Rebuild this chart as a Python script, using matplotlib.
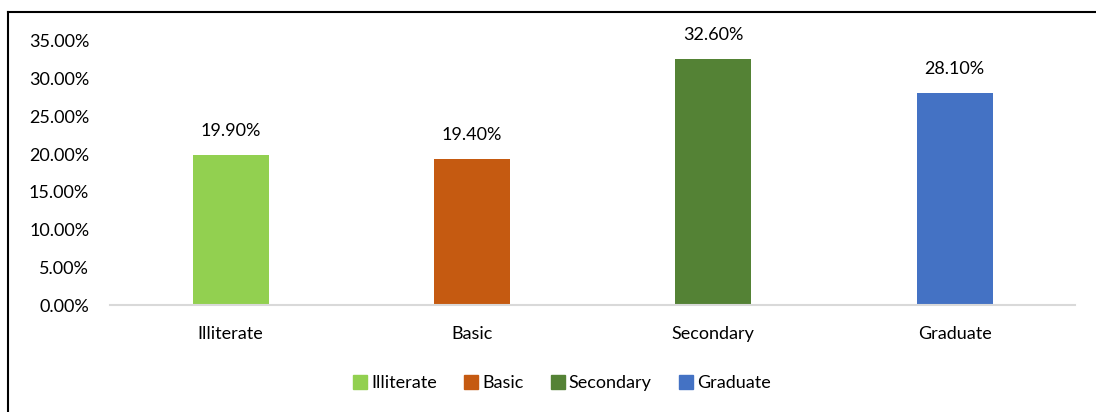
import matplotlib.pyplot as plt
from matplotlib.lines import Line2D
from matplotlib.ticker import FuncFormatter

categories = ["Illiterate", "Basic", "Secondary", "Graduate"]
values = [19.90, 19.40, 32.60, 28.10]
colors = ["#92D050", "#C55A11", "#548235", "#4472C4"]
yticks = [0, 5, 10, 15, 20, 25, 30, 35]

plt.rcParams['font.family'] = ['Lato', 'DejaVu Sans']

fig = plt.figure(figsize=(10.96, 4.12), dpi=100)
ax = fig.add_axes([0.1004, 0.2597, 0.8806, 0.6408])

x = range(len(categories))
bars = ax.bar(x, values, width=0.315, color=colors, label=categories)

for xi, v in zip(x, values):
    ax.annotate(f"{v:.2f}%", (xi, v), xytext=(0, 17), textcoords="offset points",
                ha="center", va="center", fontsize=13, color="#000000",
                annotation_clip=False)

ax.set_xlim(-0.5, len(categories) - 0.5)
ax.set_ylim(0, 35)
ax.set_yticks(yticks)
ax.yaxis.set_major_formatter(FuncFormatter(lambda v, p: f"{v:.2f}%"))
ax.set_xticks(list(x))
ax.set_xticklabels(categories)
ax.tick_params(axis="both", length=0, labelsize=13, colors="#000000")
ax.tick_params(axis="x", pad=15)
ax.tick_params(axis="y", pad=15)

for side in ("top", "right", "left"):
    ax.spines[side].set_visible(False)
ax.spines["bottom"].set_color("#D9D9D9")
ax.spines["bottom"].set_linewidth(1.5)

handles = [Line2D([], [], marker="s", linestyle="none", markersize=10,
                  markerfacecolor=c, markeredgecolor=c) for c in colors]
fig.legend(handles, categories, loc="center", bbox_to_anchor=(0.511, 0.07),
           ncol=4, frameon=False, fontsize=13, handletextpad=0.0,
           handlelength=1.2, columnspacing=1.3)

# chart frame (top and left edges)
fig.add_artist(Line2D([8 / 1096, 8 / 1096], [0, 1 - 12 / 412],
                      transform=fig.transFigure, color="black", linewidth=1.5))
fig.add_artist(Line2D([8 / 1096, 1], [1 - 12 / 412, 1 - 12 / 412],
                      transform=fig.transFigure, color="black", linewidth=1.5))

fig.savefig("out.png", dpi=100)
